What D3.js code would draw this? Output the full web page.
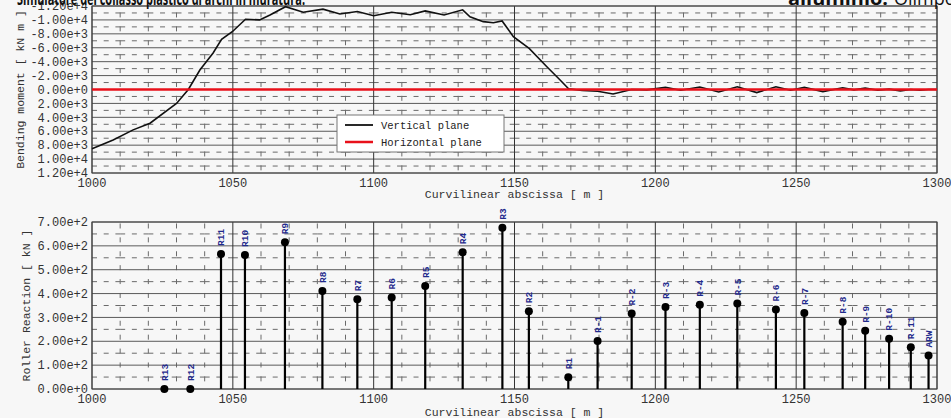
<!DOCTYPE html>
<html>
<head>
<meta charset="utf-8">
<script src="https://cdn.jsdelivr.net/npm/d3@7"></script>
<style>
  html, body { margin: 0; padding: 0; background: #f7f7f7; overflow: hidden; }
  svg { display: block; }
</style>
</head>
<body>
<svg id="chart" width="951" height="418"></svg>
<script>
// Bending moment along the arch (vertical plane)
const momentX = [1000, 1007.5, 1014.6, 1020.6, 1030, 1034.2, 1038.3, 1043, 1046, 1049.8,
  1054.5, 1059.5, 1063.2, 1068.7, 1075, 1082, 1088, 1094.2, 1100, 1106.4,
  1113, 1118.3, 1125, 1131.6, 1134.2, 1138.9, 1142.5, 1145.6, 1149.6, 1155.2,
  1161.4, 1166.1, 1169.2, 1174, 1179.5, 1185, 1191.6, 1197, 1203.6, 1209,
  1215.8, 1222.5, 1229.1, 1236, 1242.8, 1248, 1252.9, 1259.5, 1266.5, 1270.5,
  1274.5, 1279, 1283, 1287, 1290.7, 1294, 1297, 1300];
const momentV = [8500, 7250, 5800, 4850, 2000, 0, -2800, -5250, -7200, -8300,
  -10100, -10000, -10700, -11900, -11100, -11550, -10850, -11200, -10600, -11100,
  -10750, -11300, -10700, -11450, -10450, -9750, -9600, -9850, -7600, -5900,
  -3300, -1400, -100, 150, 250, 650, 0, 50, -300, 100,
  -350, 350, -400, 450, -400, 100, -300, 300, -250, 50,
  -200, 100, -50, 200, 0, 100, 0, 0];
// Horizontal plane moment (flat zero)
const hPlaneX = [1000, 1300];
const hPlaneV = [0, 0];

// Roller reactions
const rollerNames = ["R13", "R12", "R11", "R10", "R9", "R8", "R7", "R6", "R5", "R4", "R3", "R2", "R1",
  "R-1", "R-2", "R-3", "R-4", "R-5", "R-6", "R-7", "R-8", "R-9", "R-10", "R-11", "ARW"];
const rollerX = [1025.7, 1034.9, 1045.8, 1054.3, 1068.5, 1081.8, 1094.2, 1106.4, 1118.3, 1131.6, 1145.7, 1155.1, 1169.1,
  1179.5, 1191.6, 1203.6, 1215.8, 1229.1, 1242.8, 1252.9, 1266.5, 1274.5, 1283.0, 1290.7, 1297.0];
const rollerV = [0, 0, 566, 562, 615, 411, 376, 384, 432, 573, 676, 326, 49,
  201, 316, 344, 353, 358, 333, 319, 282, 244, 211, 175, 140];

const topTicks = d3.range(-12000, 12001, 2000);
const botTicks = d3.range(0, 701, 100);
const xTicks = d3.range(1000, 1301, 50);

const svg = d3.select("#chart");
const x = d3.scaleLinear().domain([1000, 1300]).range([92, 937]);
const yTop = d3.scaleLinear().domain([-12000, 12000]).range([6, 173]);
const yBot = d3.scaleLinear().domain([0, 700]).range([389, 222]);

const fmt = d => d3.format(".2e")(d).replace("\u2212", "-");

const MONO = "'Liberation Mono', 'DejaVu Sans Mono', monospace";

function panel(y, ticks, minorStep, xTitleY, yTitle, yTitleX) {
  const [x0, x1] = x.range();
  const yb = Math.max(...y.range()), yt = Math.min(...y.range());
  const g = svg.append("g");
  const bandPx = Math.abs(y(ticks[1]) - y(ticks[0]));

  // minor horizontal (dashed) lines, drawn per 10 m cell
  const minorY = ticks.slice(0, -1).map(t => t + minorStep);
  const cells = d3.range(1000, 1300, 10);
  minorY.forEach(v => {
    g.append("g").selectAll("line").data(cells).join("line")
      .attr("x1", d => x(d)).attr("x2", d => x(d + 10))
      .attr("y1", y(v)).attr("y2", y(v))
      .attr("stroke", "#6a6a6a").attr("stroke-width", 1)
      .attr("stroke-dasharray", "5,6.7");
  });
  // minor vertical (dashed) lines every 10 m
  const minorX = d3.range(1010, 1300, 10).filter(d => d % 50 !== 0);
  g.append("g").selectAll("line").data(minorX).join("line")
    .attr("x1", d => x(d)).attr("x2", d => x(d))
    .attr("y1", yt).attr("y2", yb)
    .attr("stroke", "#6a6a6a").attr("stroke-width", 1)
    .attr("stroke-dasharray", "5,8.9")
    .attr("stroke-dashoffset", bandPx / 2 + 0.5);
  // major horizontal
  g.append("g").selectAll("line").data(ticks).join("line")
    .attr("x1", x0).attr("x2", x1)
    .attr("y1", d => y(d)).attr("y2", d => y(d))
    .attr("stroke", "#5a5a5a").attr("stroke-width", 1);
  // major vertical
  g.append("g").selectAll("line").data(xTicks).join("line")
    .attr("x1", d => x(d)).attr("x2", d => x(d))
    .attr("y1", yt).attr("y2", yb)
    .attr("stroke", "#333").attr("stroke-width", 1);
  g.append("rect").attr("x", x0).attr("y", yt).attr("width", x1 - x0).attr("height", yb - yt)
    .attr("fill", "none").attr("stroke", "#444").attr("stroke-width", 1);

  // y tick labels
  g.append("g").selectAll("text").data(ticks).join("text")
    .attr("x", 88).attr("y", d => y(d)).attr("dy", "0.35em")
    .attr("text-anchor", "end")
    .attr("font-family", MONO).attr("font-size", 12).attr("fill", "#333")
    .text(fmt);
  // x tick labels
  g.append("g").selectAll("text").data(xTicks).join("text")
    .attr("x", d => x(d)).attr("y", yb + 10).attr("dy", "0.35em")
    .attr("text-anchor", "middle")
    .attr("font-family", MONO).attr("font-size", 12).attr("fill", "#333")
    .text(d => d);
  g.append("text")
    .attr("x", (x0 + x1) / 2).attr("y", xTitleY).attr("dy", "0.35em")
    .attr("text-anchor", "middle")
    .attr("font-family", MONO).attr("font-size", 11.5).attr("fill", "#333")
    .text("Curvilinear abscissa [ m ]");
  g.append("text")
    .attr("transform", `translate(${yTitleX},${(yt + yb) / 2}) rotate(-90)`)
    .attr("dy", "0.35em")
    .attr("text-anchor", "middle")
    .attr("font-family", MONO).attr("font-size", 11.5).attr("fill", "#333")
    .text(yTitle);
  return g;
}

// ── Top panel: bending moment ─────────────────────────────────────────
const topPanel = panel(yTop, topTicks, 1000, 194, "Bending moment [ kN m ]", 20);
const line = d3.line().x(d => x(d[0])).y(d => yTop(d[1]));
topPanel.append("path")
  .datum(d3.zip(momentX, momentV))
  .attr("fill", "none").attr("stroke", "#111").attr("stroke-width", 1.6)
  .attr("d", line);
topPanel.append("path")
  .datum(d3.zip(hPlaneX, hPlaneV))
  .attr("fill", "none").attr("stroke", "#e8101a").attr("stroke-width", 2.5)
  .attr("d", line);

// legend
const leg = topPanel.append("g").attr("transform", "translate(337,115)");
leg.append("rect").attr("width", 167).attr("height", 37)
  .attr("fill", "#fff").attr("stroke", "#777");
[["Vertical plane", "#111", 1.8], ["Horizontal plane", "#e8101a", 2.5]].forEach(([t, c, w], i) => {
  const yy = 10 + i * 17;
  leg.append("line").attr("x1", 8).attr("x2", 36).attr("y1", yy).attr("y2", yy)
    .attr("stroke", c).attr("stroke-width", w);
  leg.append("text").attr("x", 44).attr("y", yy).attr("dy", "0.35em")
    .attr("font-family", MONO).attr("font-size", 10.5).attr("fill", "#222")
    .text(t);
});

// ── Bottom panel: roller reactions ─────────────────────────────────────
const botPanel = panel(yBot, botTicks, 50, 412, "Roller Reaction [ kN ]", 26);
const rollers = rollerNames.map((n, i) => ({ name: n, x: rollerX[i], v: rollerV[i] }));
botPanel.append("g").selectAll("line").data(rollers.filter(d => d.v > 0)).join("line")
  .attr("x1", d => x(d.x)).attr("x2", d => x(d.x))
  .attr("y1", yBot(0)).attr("y2", d => yBot(d.v))
  .attr("stroke", "#000").attr("stroke-width", 2.2);
botPanel.append("g").selectAll("circle").data(rollers).join("circle")
  .attr("cx", d => x(d.x)).attr("cy", d => yBot(d.v)).attr("r", 4)
  .attr("fill", "#000");
botPanel.append("g").selectAll("text").data(rollers).join("text")
  .attr("transform", d => `translate(${x(d.x)},${yBot(d.v) - 8}) rotate(-90)`)
  .attr("dy", "0.35em")
  .attr("font-family", MONO).attr("font-size", 9.5).attr("font-weight", "bold")
  .attr("fill", "#1f2a8c")
  .text(d => d.name);

// ── Title strip (cut off at the top edge) ──────────────────────────────
svg.append("text")
  .attr("x", 17).attr("y", 5)
  .attr("font-family", "'Open Sans', 'Liberation Sans', sans-serif")
  .attr("font-size", 18).attr("font-weight", "bold").attr("fill", "#111")
  .attr("textLength", 288).attr("lengthAdjust", "spacingAndGlyphs")
  .text("Simulatore del collasso plastico di archi in muratura.");
const t2 = svg.append("text")
  .attr("x", 788).attr("y", 5)
  .attr("font-family", "'Open Sans', 'Liberation Sans', sans-serif")
  .attr("font-size", 18).attr("fill", "#111");
t2.append("tspan").attr("font-weight", "bold").attr("textLength", 100)
  .attr("lengthAdjust", "spacingAndGlyphs").text("alluminio.");
t2.append("tspan").attr("dx", 6).text("Olimpo");
</script>
</body>
</html>
